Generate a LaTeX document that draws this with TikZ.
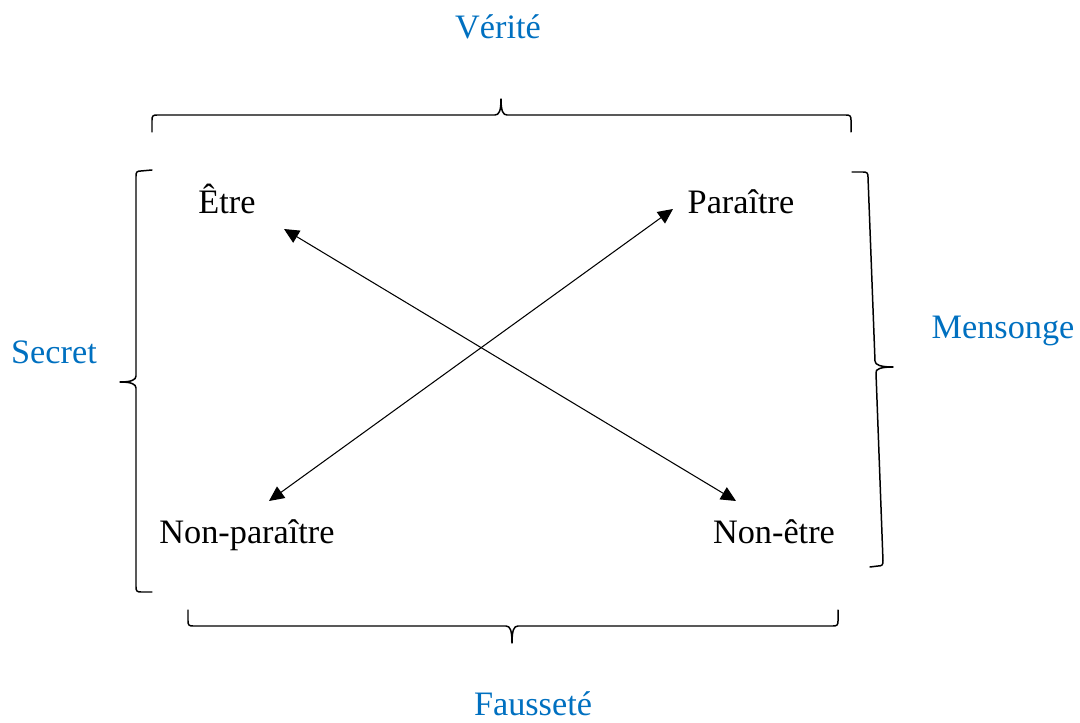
\documentclass[tikz,border=0pt]{standalone}
\usepackage{fontspec}
\setmainfont{Liberation Serif}
\usetikzlibrary{arrows.meta}
\definecolor{bleu}{RGB}{0,112,192}
\tikzset{
  mot/.style={font=\fontsize{19.5}{23}\selectfont, inner sep=0pt, anchor=base},
  titre/.style={mot, color=bleu},
  accolade/.style={line width=0.85pt},
  fleche/.style={line width=0.6pt, {Triangle[length=0.3cm,width=0.28cm]}-{Triangle[length=0.3cm,width=0.28cm]}}
}
\begin{document}
\begin{tikzpicture}[line cap=round,line join=round,x=0.02cm,y=-0.02cm]
\useasboundingbox (0,0) rectangle (1080,723);
% les quatre termes
\node[mot] (etre) at (227,214) {Être};
\node[mot] (paraitre) at (741,214) {Paraître};
\node[mot] (nonparaitre) at (247,543) {Non-paraître};
\node[mot] (nonetre) at (774,543) {Non-être};
% les titres
\node[titre] (verite) at (498,39) {Vérité};
\node[titre] (secret) at (54,363) {Secret};
\node[titre] (mensonge) at (1003,338) {Mensonge};
\node[titre] (faussete) at (533,715) {Fausseté};
% extremites des fleches
\coordinate (etre-f) at (284,229);
\coordinate (nonetre-f) at (736,501);
\coordinate (paraitre-f) at (673,209);
\coordinate (nonparaitre-f) at (269,501);
\draw [fleche] (etre-f) -- (nonetre-f);
\draw [fleche] (paraitre-f) -- (nonparaitre-f);
% accolades
%\draw [accolade] (153,130) -- (851,130);
\draw [accolade] (152,132) -- (152,120) .. controls (152,116) and (153,115) .. (157,115)
  -- (495,115) .. controls (499,115) and (501,111) .. (501,99)
  .. controls (501,111) and (503,115) .. (507,115)
  -- (846,115) .. controls (850,115) and (851,116) .. (851,120) -- (851,132);
\draw [accolade] (152,170) -- (141,171) .. controls (137,171) and (136,172) .. (136,176)
  -- (136,376) .. controls (136,380) and (131,382) .. (120,382)
  .. controls (131,382) and (136,384) .. (136,388)
  -- (136,587) .. controls (136,591) and (137,592) .. (141,592) -- (152,592);
\draw [accolade] (852,172) -- (863,172) .. controls (867,172) and (868,173) .. (868,177)
  -- (875,361) .. controls (875,365) and (881,367) .. (893,367)
  .. controls (881,367) and (875,369) .. (876,373)
  -- (883,561) .. controls (883,565) and (882,566) .. (878,566) -- (870,567);
\draw [accolade] (188,610) -- (188,621) .. controls (188,625) and (189,626) .. (193,626)
  -- (506,626) .. controls (510,626) and (512,630) .. (512,643)
  .. controls (512,630) and (514,626) .. (518,626)
  -- (833,626) .. controls (837,626) and (838,625) .. (838,621) -- (838,610);
\end{tikzpicture}
\end{document}
